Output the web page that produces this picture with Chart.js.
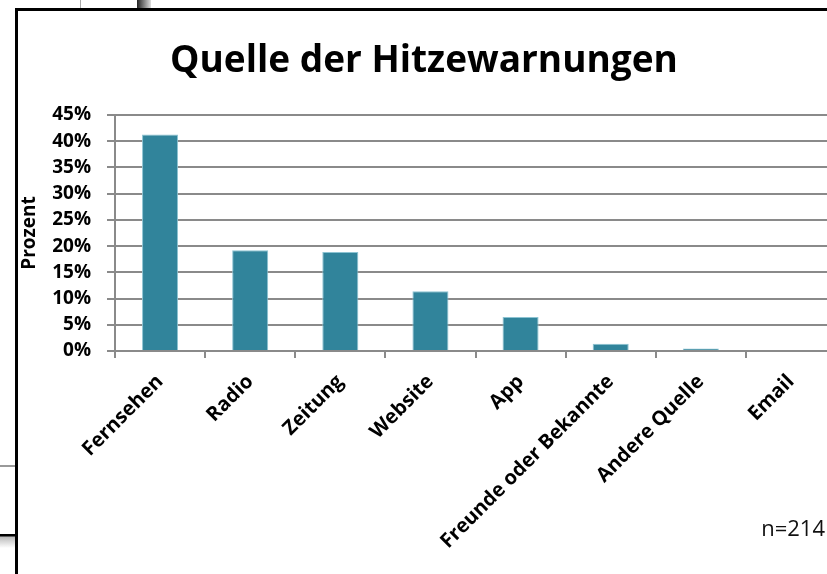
<!DOCTYPE html>
<html>
<head>
<meta charset="utf-8">
<script src="https://cdn.jsdelivr.net/npm/chart.js@4.4.1/dist/chart.umd.min.js"></script>
<style>
    html, body { margin: 0; padding: 0; width: 827px; height: 574px; overflow: hidden; background: #fff; font-family: 'Open Sans', sans-serif; }
    .frame { position: absolute; left: 15px; top: 8px; width: 900px; height: 700px; border-left: 3px solid #000; border-top: 3px solid #000; }
    .bg-line { position: absolute; }
    #wrap { position: absolute; left: 0; top: 0; width: 840px; height: 574px; }
    #title { position: absolute; left: 0; width: 848px; top: 39px; text-align: center; font-weight: bold; font-size: 37px; line-height: 1; color: #000; }
    #note { position: absolute; right: 2px; top: 516px; font-size: 22px; line-height: 1; color: #111; }
</style>
</head>
<body>
<!-- bits of the window behind the chart -->
<div class="bg-line" style="left:80px; top:0; width:1px; height:8px; background:#aaa;"></div>
<div class="bg-line" style="left:137px; top:0; width:14px; height:8px; background:linear-gradient(to right,#222,#ddd);"></div>
<div class="bg-line" style="left:0; top:465px; width:15px; height:2px; background:#999;"></div>
<div class="bg-line" style="left:0; top:534px; width:15px; height:14px; background:linear-gradient(to bottom,#000 0,#000 2px,#bbb 3px,#fff 14px);"></div>
<div class="frame"></div>

<div id="wrap"><canvas id="chart"></canvas></div>
<div id="title">Quelle der Hitzewarnungen</div>
<div id="note">n=214</div>

<script>
// Chart data
const categories = ['Fernsehen', 'Radio', 'Zeitung', 'Website', 'App', 'Freunde oder Bekannte', 'Andere Quelle', 'Email'];
const percentValues = [41.3, 19.2, 18.9, 11.4, 6.5, 1.4, 0.5, 0];
const yTicks = [0, 5, 10, 15, 20, 25, 30, 35, 40, 45];

const barColor = '#31849b';
const gridColor = '#8a8a8a';

function initChart() {
    const ctx = document.getElementById('chart').getContext('2d');
    new Chart(ctx, {
        type: 'bar',
        data: {
            labels: categories,
            datasets: [{
                data: percentValues,
                backgroundColor: barColor,
                borderColor: '#8cc3d2',
                borderWidth: 1,
                categoryPercentage: 1,
                barPercentage: 0.4
            }]
        },
        options: {
            responsive: true,
            maintainAspectRatio: false,
            animation: false,
            layout: {
                padding: { left: 18, top: 115, right: 4, bottom: 0 }
            },
            plugins: {
                legend: { display: false },
                tooltip: { enabled: false }
            },
            scales: {
                x: {
                    grid: {
                        display: true,
                        drawOnChartArea: false,
                        offset: true,
                        color: gridColor,
                        lineWidth: 2,
                        tickLength: 7
                    },
                    border: { display: true, color: gridColor, width: 2 },
                    ticks: {
                        autoSkip: false,
                        maxRotation: 45,
                        minRotation: 45,
                        padding: 12,
                        color: '#000',
                        font: { family: 'Open Sans', weight: 'bold', size: 20 }
                    },
                    afterFit: function (scale) {
                        scale.height = 223;
                    }
                },
                y: {
                    min: 0,
                    max: 45,
                    afterBuildTicks: function (scale) {
                        scale.ticks = yTicks.map(v => ({ value: v }));
                    },
                    grid: {
                        color: gridColor,
                        lineWidth: 2,
                        tickLength: 8
                    },
                    border: { display: true, color: gridColor, width: 2 },
                    ticks: {
                        padding: 16,
                        color: '#000',
                        font: { family: 'Open Sans', weight: 'bold', size: 19 },
                        callback: v => v + '%'
                    },
                    title: {
                        display: true,
                        text: 'Prozent',
                        color: '#000',
                        padding: 0,
                        font: { family: 'Open Sans', weight: 'bold', size: 19 }
                    },
                    afterFit: function (scale) {
                        scale.width = 97;
                    }
                }
            }
        }
    });
}

document.addEventListener('DOMContentLoaded', initChart);
</script>
</body>
</html>
